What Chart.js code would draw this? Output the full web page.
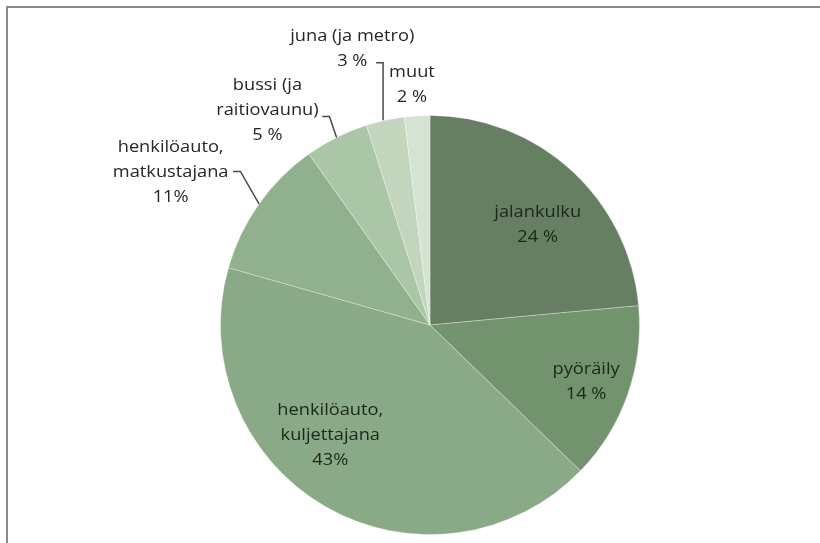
<!DOCTYPE html>
<html>
<head>
<meta charset="utf-8">
<script src="https://cdn.jsdelivr.net/npm/chart.js@4/dist/chart.umd.min.js"></script>
<style>
html,body{margin:0;padding:0;background:#fff;width:820px;height:543px;overflow:hidden;}
#frame{position:absolute;left:6px;top:6px;right:0;bottom:0;border-top:2px solid #8a8a8a;border-left:2px solid #8a8a8a;}
#c{position:absolute;left:0;top:0;}
</style>
</head>
<body>
<div id="frame"></div>
<canvas id="c" width="820" height="543"></canvas>
<script>
const categories = ["jalankulku", "pyöräily", "henkilöauto, kuljettajana", "henkilöauto, matkustajana", "bussi (ja raitiovaunu)", "juna (ja metro)", "muut"];
const labelLines = [
  ["jalankulku", "24 %"],
  ["pyöräily", "14 %"],
  ["henkilöauto,", "kuljettajana", "43%"],
  ["henkilöauto,", "matkustajana", "11%"],
  ["bussi (ja", "raitiovaunu)", "5 %"],
  ["juna (ja metro)", "3 %"],
  ["muut", "2 %"]
];
const shares = [24, 14, 43, 11, 5, 3, 2];
const sliceColors = ["#667f62", "#73926e", "#8aa986", "#91b08d", "#aac6a6", "#c1d6bd", "#d5e4d2"];

// label placement (relative to pie centre, in radius units) and leader lines
const labelPos = [
  {fx: 0.514, fy: -0.476},
  {fx: 0.745, fy: 0.271},
  {fx: -0.476, fy: 0.529},
  {fx: -1.238, fy: -0.729, leader: {sx: -0.940, sy: -0.733, hx: -0.905}},
  {fx: -0.776, fy: -1.024, leader: {sx: -0.514, sy: -0.995, hx: -0.48}},
  {fx: -0.371, fy: -1.319, leader: {sx: -0.257, sy: -1.252, hx: -0.224, vertical: true}},
  {fx: -0.086, fy: -1.148}
];

const labelPlugin = {
  id: 'sliceLabels',
  afterDatasetsDraw(chart) {
    const ctx = chart.ctx;
    const meta = chart.getDatasetMeta(0);
    ctx.save();
    ctx.font = '16px "Open Sans", sans-serif';
    ctx.textAlign = 'center';
    ctx.textBaseline = 'middle';
    const lh = 25;
    const stretch = 1.14;
    meta.data.forEach((arc, i) => {
      const p = arc.getProps(['x', 'y', 'startAngle', 'endAngle', 'outerRadius'], true);
      const R = p.outerRadius;
      const pos = labelPos[i];
      const lx = p.x + pos.fx * R;
      const ly = p.y + pos.fy * R;
      const lines = labelLines[i];
      const inside = i < 3;
      ctx.fillStyle = inside ? '#1c261b' : '#262626';
      lines.forEach((t, k) => {
        ctx.save();
        ctx.translate(lx, ly + (k - (lines.length - 1) / 2) * lh);
        ctx.scale(stretch, 1);
        ctx.fillText(t, 0, 0);
        ctx.restore();
      });
      if (pos.leader) {
        const mid = (p.startAngle + p.endAngle) / 2;
        let ex = p.x + Math.cos(mid) * R;
        let ey = p.y + Math.sin(mid) * R;
        const sx = p.x + pos.leader.sx * R, sy = p.y + pos.leader.sy * R;
        const hx = p.x + pos.leader.hx * R;
        ctx.strokeStyle = '#4a4a4a';
        ctx.lineWidth = 1.5;
        ctx.beginPath();
        ctx.moveTo(sx, sy);
        ctx.lineTo(hx, sy);
        if (pos.leader.vertical) { ctx.lineTo(hx, ey); }
        else { ctx.lineTo(ex, ey); }
        ctx.stroke();
      }
    });
    ctx.restore();
  }
};

new Chart(document.getElementById('c'), {
  type: 'pie',
  data: {
    labels: categories,
    datasets: [{
      data: shares,
      backgroundColor: sliceColors,
      borderColor: 'rgba(255,255,255,0.3)',
      borderWidth: 1
    }]
  },
  options: {
    responsive: false,
    animation: false,
    devicePixelRatio: 1,
    layout: {padding: {top: 115, bottom: 8, left: 220, right: 180}},
    plugins: {legend: {display: false}, tooltip: {enabled: false}}
  },
  plugins: [labelPlugin]
});
</script>
</body>
</html>
